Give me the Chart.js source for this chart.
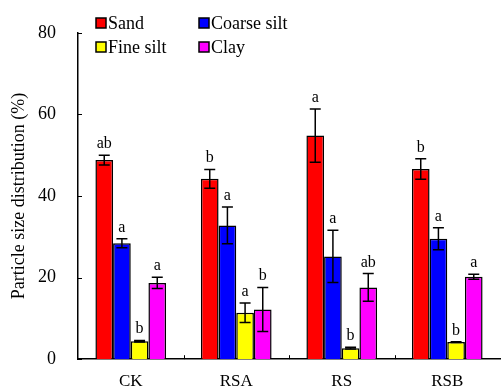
<!DOCTYPE html>
<html>
<head>
<script src="https://cdn.jsdelivr.net/npm/chart.js@4.4.1/dist/chart.umd.min.js"></script>
<style>
  body { margin: 0; background: #fff; }
  #wrap { width: 501px; height: 392px; }
</style>
</head>
<body>
<div id="wrap"><canvas id="myChart"></canvas></div>
<script>
// data
var treatments = ['CK', 'RSA', 'RS', 'RSB'];
var fractions = ['Sand', 'Coarse silt', 'Fine silt', 'Clay'];
var colors = ['#ff0000', '#0000ff', '#ffff00', '#ff00ff'];

var sand       = [48.8, 44.2, 54.8, 46.6];
var coarseSilt = [28.4, 32.8, 25.2, 29.5];
var fineSilt   = [4.4, 11.4, 2.7, 4.2];
var clay       = [18.7, 12.2, 17.6, 20.2];

var sandErr       = [1.2, 2.3, 6.5, 2.5];
var coarseSiltErr = [1.1, 4.5, 6.4, 2.7];
var fineSiltErr   = [0.2, 2.4, 0.2, 0.1];
var clayErr       = [1.4, 5.4, 3.4, 0.6];

var sandSig       = ['ab', 'b', 'a', 'b'];
var coarseSiltSig = ['a', 'a', 'a', 'a'];
var fineSiltSig   = ['b', 'a', 'b', 'b'];
var claySig       = ['a', 'b', 'ab', 'a'];

var yTicks = [0, 20, 40, 60, 80];

var values = [sand, coarseSilt, fineSilt, clay];
var errors = [sandErr, coarseSiltErr, fineSiltErr, clayErr];
var sigs = [sandSig, coarseSiltSig, fineSiltSig, claySig];

var serif = '"Liberation Serif", "Times New Roman", serif';

// error bars, letters, inward ticks, legend
var extras = {
  id: 'extras',
  afterDatasetsDraw: function(chart) {
    var ctx = chart.ctx;
    var y = chart.scales.y, x = chart.scales.x;
    var area = chart.chartArea;
    ctx.save();
    ctx.strokeStyle = '#000';
    ctx.fillStyle = '#000';
    ctx.lineWidth = 1.5;
    ctx.font = '16px ' + serif;
    ctx.textAlign = 'center';
    ctx.textBaseline = 'alphabetic';
    chart.data.datasets.forEach(function(ds, i) {
      var meta = chart.getDatasetMeta(i);
      meta.data.forEach(function(bar, j) {
        var v = ds.data[j], e = errors[i][j];
        var yt = y.getPixelForValue(v + e), yb = y.getPixelForValue(v - e);
        var cx = bar.x;
        ctx.beginPath();
        ctx.moveTo(cx, yt); ctx.lineTo(cx, yb);
        ctx.moveTo(cx - 5.5, yt); ctx.lineTo(cx + 5.5, yt);
        ctx.moveTo(cx - 5.5, yb); ctx.lineTo(cx + 5.5, yb);
        ctx.stroke();
        ctx.fillText(sigs[i][j], cx, yt - 7);
      });
    });

    // inward ticks
    ctx.lineWidth = 1;
    ctx.beginPath();
    yTicks.forEach(function(t) {
      var py = Math.round(y.getPixelForValue(t)) + 0.5;
      ctx.moveTo(area.left, py); ctx.lineTo(area.left + 4, py);
    });
    for (var k = 1; k < treatments.length; k++) {
      var px = Math.round((x.getPixelForValue(k - 1) + x.getPixelForValue(k)) / 2) + 0.5;
      ctx.moveTo(px, area.bottom); ctx.lineTo(px, area.bottom - 4);
    }
    ctx.stroke();

    // legend, 2 x 2 inside the plot
    ctx.textAlign = 'left';
    ctx.font = '18px ' + serif;
    var colX = [96, 199], rowY = [18, 42];
    chart.data.datasets.forEach(function(ds, i) {
      var lx = colX[i % 2], ly = rowY[Math.floor(i / 2)];
      ctx.fillStyle = ds.backgroundColor;
      ctx.fillRect(lx, ly, 10, 10);
      ctx.strokeStyle = '#000';
      ctx.lineWidth = 1.5;
      ctx.strokeRect(lx, ly, 10, 10);
      ctx.fillStyle = '#000';
      ctx.fillText(ds.label, lx + 12, ly + 11);
    });
    ctx.restore();
  }
};

var ctx = document.getElementById('myChart').getContext('2d');
var myChart = new Chart(ctx, {
  type: 'bar',
  data: {
    labels: treatments,
    datasets: fractions.map(function(name, i) {
      return {
        label: name,
        data: values[i],
        backgroundColor: colors[i],
        borderColor: '#000',
        borderWidth: 1.5,
        categoryPercentage: 0.67,
        barPercentage: 1.0
      };
    })
  },
  options: {
    responsive: true,
    maintainAspectRatio: false,
    animation: false,
    layout: { padding: { top: 22, right: 1, left: 0, bottom: 0 } },
    plugins: {
      legend: { display: false },
      tooltip: { enabled: false }
    },
    scales: {
      x: {
        grid: { display: false, drawTicks: false },
        border: { color: '#000', width: 1.5 },
        ticks: { color: '#000', font: { family: serif, size: 17 }, padding: 12 },
        afterFit: function(s) { s.height = 30; }
      },
      y: {
        min: 0, max: 80,
        afterBuildTicks: function(s) { s.ticks = yTicks.map(function(v) { return { value: v }; }); },
        grid: { display: false, drawTicks: false },
        border: { color: '#000', width: 1.5 },
        ticks: { color: '#000', font: { family: serif, size: 18 }, padding: 22 },
        title: {
          display: true,
          text: 'Particle size distribution (%)',
          color: '#000',
          font: { family: serif, size: 18 },
          padding: { top: 8, bottom: 0 }
        },
        afterFit: function(s) { s.width = 78; }
      }
    }
  },
  plugins: [extras]
});
</script>
</body>
</html>
